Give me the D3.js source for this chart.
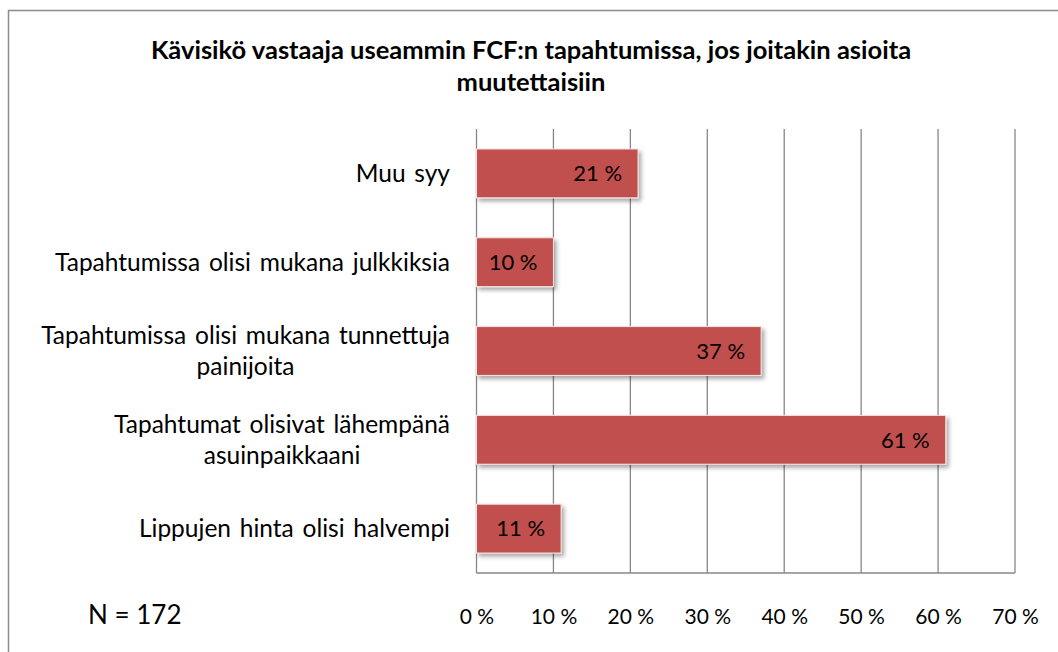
<!DOCTYPE html>
<html>
<head>
<meta charset="utf-8">
<script src="https://cdn.jsdelivr.net/npm/d3@7"></script>
<style>
  body { margin: 0; background: #fff; }
  svg { display: block; }
</style>
</head>
<body>
<svg></svg>
<script>
const WIDTH = 1058, HEIGHT = 652;

// categories from top to bottom, each one split into the lines shown
const categories = [
    ["Muu syy"],
    ["Tapahtumissa olisi mukana julkkiksia"],
    ["Tapahtumissa olisi mukana tunnettuja", "painijoita"],
    ["Tapahtumat olisivat lähempänä", "asuinpaikkaani"],
    ["Lippujen hinta olisi halvempi"]
];
const shares = [21, 10, 37, 61, 11];
const tickValues = [0, 10, 20, 30, 40, 50, 60, 70];
const titleLines = ["Kävisikö vastaaja useammin FCF:n tapahtumissa, jos joitakin asioita", "muutettaisiin"];
const noteText = "N = 172";

const FONT = "Lato, 'Open Sans', sans-serif";
const BAR = "#c0504d";
const GRID = "#878787";

function drawChart(svg) {
    svg.attr("width", WIDTH).attr("height", HEIGHT);

    const defs = svg.append("defs");
    const shadow = defs.append("filter")
        .attr("id", "shadow")
        .attr("x", "-10%").attr("y", "-20%")
        .attr("width", "130%").attr("height", "160%");
    shadow.append("feDropShadow")
        .attr("dx", 2.5).attr("dy", 3)
        .attr("stdDeviation", 2)
        .attr("flood-color", "#000")
        .attr("flood-opacity", 0.35);

    // chart frame (cut off on the right and bottom)
    svg.append("path")
        .attr("d", `M8.5,${HEIGHT + 5}V10.5H${WIDTH + 5}`)
        .style("fill", "none")
        .style("stroke", "#8c8c8c")
        .style("stroke-width", 1.5);

    const title = svg.append("text")
        .attr("text-anchor", "middle")
        .style("font-family", FONT)
        .style("font-weight", "bold")
        .style("font-size", "25.5px")
        .style("fill", "#000");
    titleLines.forEach((t, i) => {
        title.append("tspan")
            .attr("x", 531)
            .attr("y", 59 + i * 32)
            .text(t);
    });

    const plot = { left: 476.5, right: 1015, top: 129, bottom: 573 };

    const x = d3.scaleLinear()
        .domain([0, 70])
        .range([plot.left, plot.right]);

    const y = d3.scaleBand()
        .domain(d3.range(categories.length))
        .range([plot.top, plot.bottom])
        .paddingInner(0.45)
        .paddingOuter(0.225);

    const g = svg.append("g");

    // vertical gridlines
    g.selectAll("line.grid")
        .data(tickValues)
        .enter().append("line")
        .attr("class", "grid")
        .attr("x1", d => x(d)).attr("x2", d => x(d))
        .attr("y1", plot.top).attr("y2", plot.bottom)
        .style("stroke", GRID)
        .style("stroke-width", 1.3);

    // bottom axis line
    g.append("line")
        .attr("x1", plot.left).attr("x2", plot.right)
        .attr("y1", plot.bottom).attr("y2", plot.bottom)
        .style("stroke", GRID)
        .style("stroke-width", 1.3);

    const xAxis = d3.axisBottom(x)
        .tickValues(tickValues)
        .tickSize(0)
        .tickPadding(0)
        .tickFormat(d => `${d} %`);

    const axisG = svg.append("g")
        .attr("transform", `translate(0, 624)`)
        .call(xAxis);
    axisG.select(".domain").remove();
    axisG.selectAll("text")
        .attr("dy", 0)
        .style("font-family", FONT)
        .style("font-size", "21px")
        .style("fill", "#000");

    // bars
    g.selectAll("rect.bar")
        .data(shares)
        .enter().append("rect")
        .attr("class", "bar")
        .attr("x", x(0))
        .attr("y", (d, i) => y(i))
        .attr("width", d => x(d) - x(0))
        .attr("height", y.bandwidth())
        .style("fill", BAR)
        .style("stroke", "#f6e4e3")
        .style("stroke-width", 1)
        .attr("filter", "url(#shadow)");

    // value labels inside bar ends
    g.selectAll("text.value")
        .data(shares)
        .enter().append("text")
        .attr("class", "value")
        .attr("x", d => x(d) - 16)
        .attr("y", (d, i) => y(i) + y.bandwidth() / 2)
        .attr("dy", "0.35em")
        .attr("text-anchor", "end")
        .style("font-family", FONT)
        .style("font-size", "22px")
        .style("fill", "#000")
        .text(d => `${d} %`);

    // category labels: block right-aligned, lines centred on each other
    const lineHeight = 31;
    categories.forEach((lines, i) => {
        const cy = y(i) + y.bandwidth() / 2;
        const lab = svg.append("text")
            .attr("text-anchor", "middle")
            .style("font-family", FONT)
            .style("font-size", "24.5px")
            .style("word-spacing", "2.5px")
            .style("fill", "#000");
        const spans = lines.map((t, j) => lab.append("tspan")
            .attr("y", cy + (j - (lines.length - 1) / 2) * lineHeight)
            .attr("dy", "0.35em")
            .text(t));
        const widest = d3.max(spans, s => s.node().getComputedTextLength());
        spans.forEach(s => s.attr("x", 450 - widest / 2));
    });

    svg.append("text")
        .attr("x", 88)
        .attr("y", 615)
        .attr("dy", "0.35em")
        .style("font-family", FONT)
        .style("font-size", "26px")
        .style("fill", "#000")
        .text(noteText);
}

drawChart(d3.select("svg"));
</script>
</body>
</html>
